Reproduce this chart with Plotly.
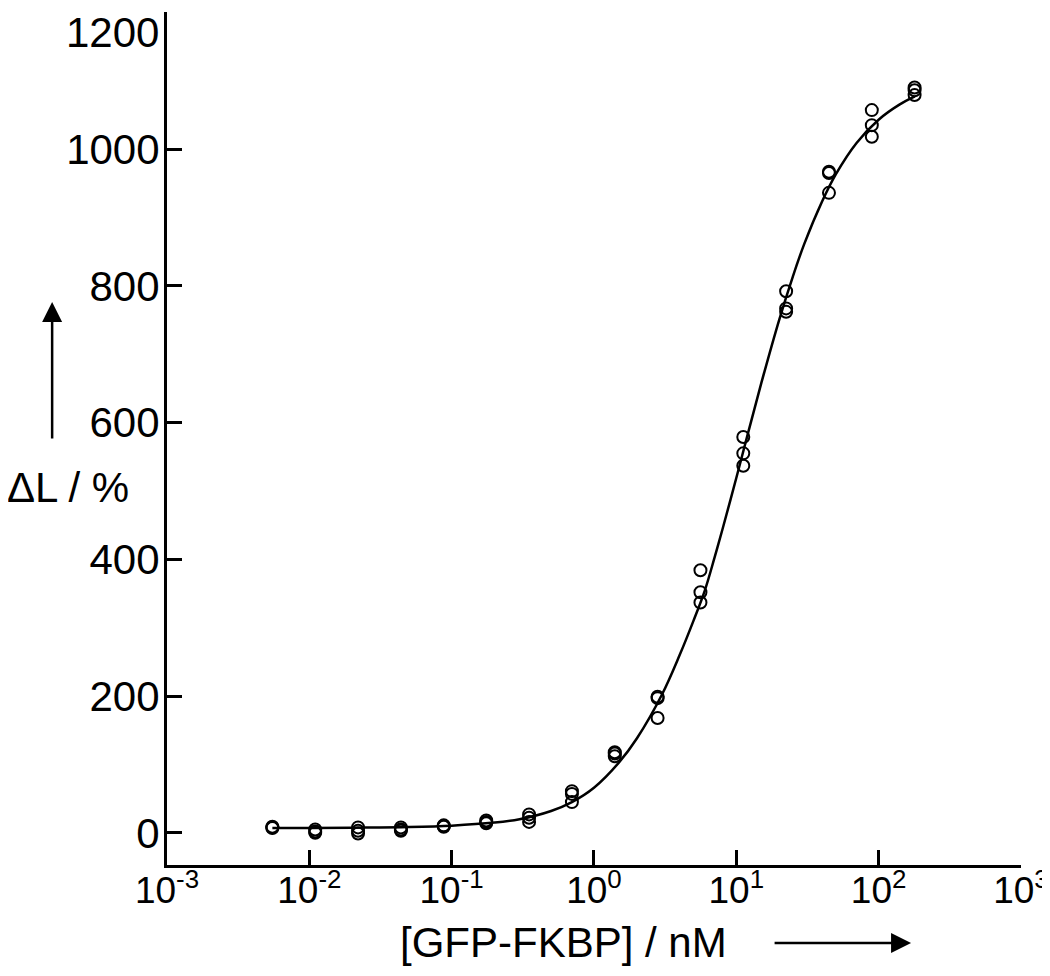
import plotly.graph_objects as go

# concentrations (nM), three replicates each
conc = [0.0055, 0.011, 0.022, 0.044, 0.088, 0.175, 0.35, 0.70,
        1.4, 2.8, 5.6, 11.2, 22.4, 44.8, 89.6, 179]
rep1 = [7, 2, 8, 8, 9, 14, 16, 45, 112, 199, 384, 579, 792, 967, 1057, 1090]
rep2 = [9, 5, 3, 3, 11, 18, 22, 57, 118, 197, 352, 555, 767, 965, 1035, 1086]
rep3 = [8, 0, -1, 5, 10, 16, 27, 61, 116, 168, 337, 537, 762, 936, 1018, 1079]

# fitted curve
fit_x = [0.0055, 0.01, 0.02, 0.05, 0.1, 0.2, 0.3, 0.5, 0.7, 1, 1.5, 2, 3, 4, 5,
         6, 7, 8, 10, 12, 15, 20, 25, 30, 40, 50, 70, 100, 140, 180]
fit_y = [7, 7, 7.5, 8.5, 10.5, 15, 20, 32, 45, 66, 103, 138, 202, 260, 310,
         354, 401, 444, 519, 582, 658, 750, 814, 861, 923, 963, 1009, 1043, 1065, 1077]

xticks = [1e-3, 1e-2, 1e-1, 1e0, 1e1, 1e2, 1e3]
xticktext = ["10<sup>-3</sup>", "10<sup>-2</sup>", "10<sup>-1</sup>", "10<sup>0</sup>",
             "10<sup>1</sup>", "10<sup>2</sup>", "10<sup>3</sup>"]
yticks = [0, 200, 400, 600, 800, 1000, 1200]
yticktext = ["0", "200", "400", "600", "800", "1000", "1200"]

fig = go.Figure()

fig.add_trace(go.Scatter(x=fit_x, y=fit_y, mode="lines", line_shape="spline",
                         line=dict(color="black", width=2.5), showlegend=False))

xs = conc * 3
ys = rep1 + rep2 + rep3
fig.add_trace(go.Scatter(x=xs, y=ys, mode="markers",
                         marker=dict(symbol="circle-open", size=12, color="black",
                                     line=dict(width=2, color="black")),
                         showlegend=False, cliponaxis=False))

fnt = dict(family="Liberation Sans, Arial", size=42, color="black")
xfnt = dict(family="Liberation Sans, Arial", size=37, color="black")

fig.update_xaxes(type="log", range=[-3, 3.0005], showgrid=False, zeroline=False,
                 showline=True, linecolor="black", linewidth=3,
                 ticks="inside", ticklen=15, tickwidth=3, tickcolor="black",
                 tickvals=xticks, ticktext=xticktext, tickfont=xfnt,
                 ticklabelstandoff=-9)
# top label drawn separately so it stays inside the page
fig.update_yaxes(range=[-47, 1200.5], showgrid=False, zeroline=False,
                 showline=True, linecolor="black", linewidth=3,
                 ticks="inside", ticklen=15, tickwidth=3, tickcolor="black",
                 tickvals=yticks, ticktext=yticktext[:-1] + [""], tickfont=fnt,
                 ticklabelstandoff=-4)
fig.add_annotation(text=yticktext[-1], xref="paper", yref="y", x=0, y=yticks[-1],
                   xanchor="right", yanchor="middle", xshift=-8, yshift=-20,
                   borderpad=0, borderwidth=0, showarrow=False, font=fnt)

# axis titles with arrows
fig.add_annotation(text="ΔL / %", xref="paper", yref="paper", x=-0.1895, y=0.443,
                   xanchor="left", yanchor="middle", showarrow=False, font=fnt)
fig.add_annotation(text="", xref="paper", yref="paper", x=-0.1345, y=0.660,
                   ax=0, ay=138, showarrow=True, arrowhead=2, arrowsize=1.6,
                   arrowwidth=2.5, arrowcolor="black", standoff=0)
fig.add_annotation(text="[GFP-FKBP] / nM", xref="paper", yref="paper", x=0.464, y=-0.0914,
                   xanchor="center", yanchor="middle", showarrow=False, font=fnt)
fig.add_annotation(text="", xref="paper", yref="paper", x=0.8713, y=-0.0914,
                   ax=-138, ay=0, showarrow=True, arrowhead=2, arrowsize=1.6,
                   arrowwidth=2.5, arrowcolor="black", standoff=0)

# page body adds an 8 px offset, margins compensate
fig.update_layout(width=1050, height=976, plot_bgcolor="white", paper_bgcolor="white",
                  margin=dict(l=159, r=37, t=4, b=119), font=fnt, showlegend=False)

fig.write_html("out.html")
